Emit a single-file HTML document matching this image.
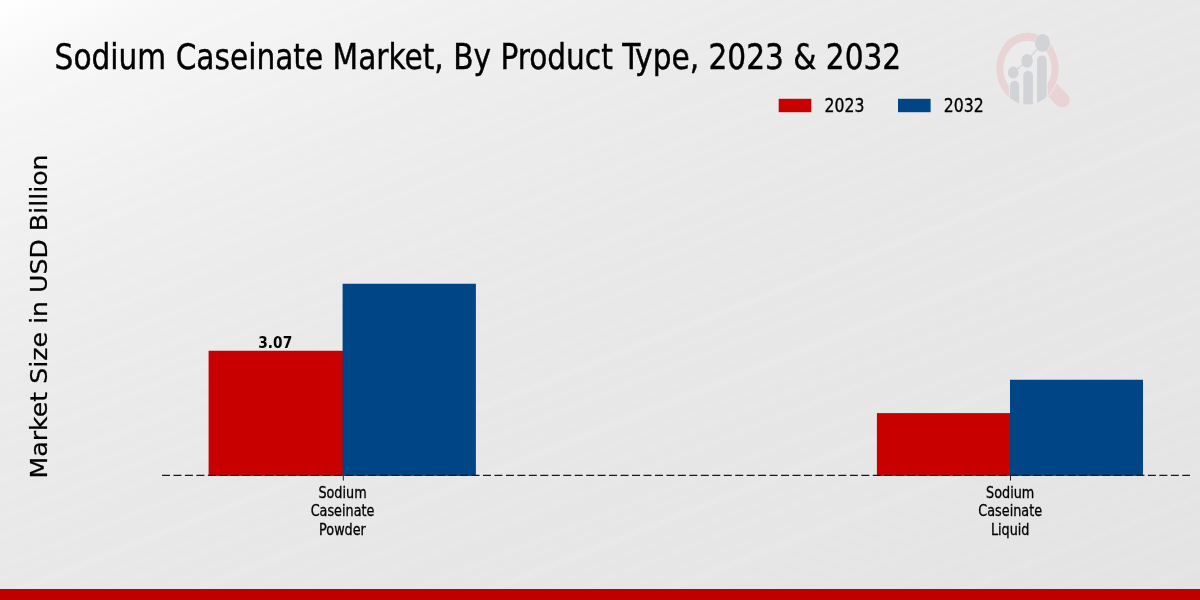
<!DOCTYPE html>
<html lang="en">
<head>
<meta charset="utf-8">
<title>Sodium Caseinate Market, By Product Type, 2023 &amp; 2032</title>
<style>
html,body{margin:0;padding:0;}
body{width:1200px;height:600px;overflow:hidden;background:#e8e8e8;}
svg{display:block;}
.t{font-family:"DejaVu Sans Condensed","DejaVu Sans","Liberation Sans",sans-serif;font-stretch:condensed;fill:#000;}
.w{font-family:"DejaVu Sans","Liberation Sans",sans-serif;fill:#000;}
</style>
</head>
<body>
<svg width="1200" height="600" viewBox="0 0 1200 600">
  <defs>
    <linearGradient id="bg" x1="0" y1="0" x2="1" y2="1" gradientUnits="objectBoundingBox">
      <stop offset="0" stop-color="#ffffff"/>
      <stop offset="0.07" stop-color="#f7f7f7"/>
      <stop offset="0.2" stop-color="#f0f0f0"/>
      <stop offset="0.32" stop-color="#ebebeb"/>
      <stop offset="0.5" stop-color="#e8e8e8"/>
      <stop offset="0.75" stop-color="#e6e6e6"/>
      <stop offset="1" stop-color="#e3e3e3"/>
    </linearGradient>
    <pattern id="rays" patternUnits="userSpaceOnUse" width="300" height="173" patternTransform="rotate(-21.5)">
      <rect x="0" y="6" width="300" height="5" fill="#fff" opacity="0.055"/>
      <rect x="0" y="19" width="300" height="3" fill="#fff" opacity="0.044"/>
      <rect x="0" y="33" width="300" height="7" fill="#fff" opacity="0.066"/>
      <rect x="0" y="52" width="300" height="4" fill="#fff" opacity="0.039"/>
      <rect x="0" y="66" width="300" height="6" fill="#fff" opacity="0.055"/>
      <rect x="0" y="85" width="300" height="3" fill="#fff" opacity="0.044"/>
      <rect x="0" y="97" width="300" height="8" fill="#fff" opacity="0.061"/>
      <rect x="0" y="118" width="300" height="4" fill="#fff" opacity="0.044"/>
      <rect x="0" y="133" width="300" height="6" fill="#fff" opacity="0.055"/>
      <rect x="0" y="152" width="300" height="5" fill="#fff" opacity="0.050"/>
    </pattern>
    <clipPath id="lens"><ellipse cx="1027.5" cy="68.5" rx="31.25" ry="36"/></clipPath>
  </defs>
  <rect x="0" y="0" width="1200" height="600" fill="url(#bg)"/>
  <rect x="0" y="0" width="1200" height="600" fill="url(#rays)"/>

  <!-- watermark logo -->
  <g id="logo">
    <line x1="1052" y1="89.5" x2="1062.2" y2="99.9" stroke="#e8d3d5" stroke-width="15" stroke-linecap="round"/>
    <ellipse cx="1027.5" cy="68.5" rx="32.1" ry="36.9" fill="#ebebeb"/>
    <path fill="#e8d3d5" fill-rule="evenodd" d="M996.25,68.5 a31.25,36 0 1 0 62.5,0 a31.25,36 0 1 0 -62.5,0 Z M1003.3,68.5 a24.2,27.7 0 1 0 48.4,0 a24.2,27.7 0 1 0 -48.4,0 Z"/>
    <g clip-path="url(#lens)">
      <rect x="1009.2" y="88" width="38.3" height="20" fill="#ebebeb"/>
      <g fill="#d2d3d7" stroke="#ebebeb" stroke-width="1.6" paint-order="stroke">
        <rect x="1010" y="80.8" width="9.2" height="40" rx="4.6"/>
        <rect x="1023.3" y="70.8" width="9.6" height="50" rx="4.8"/>
        <rect x="1037.1" y="55.4" width="9.6" height="60" rx="4.8"/>
      </g>
    </g>
    <polyline points="1013.2,72.6 1027.1,60.8 1042.5,42.9" fill="none" stroke="#d2d3d7" stroke-width="1.2"/>
    <ellipse cx="1013.2" cy="72.6" rx="5.3" ry="6" fill="#d2d3d7"/>
    <ellipse cx="1027.1" cy="60.8" rx="5.8" ry="6.9" fill="#d2d3d7"/>
    <ellipse cx="1042.5" cy="42.9" rx="7.6" ry="8.9" fill="#d2d3d7" stroke="#ebebeb" stroke-width="1.2" paint-order="stroke"/>
  </g>

  <!-- bars -->
  <rect x="208.6" y="350.75" width="135" height="125.15" fill="#c80000"/>
  <rect x="342.6" y="283.75" width="133.3" height="192.15" fill="#004586"/>
  <rect x="876.9" y="413.1" width="133.1" height="62.8" fill="#c80000"/>
  <rect x="1010" y="379.75" width="133" height="96.15" fill="#004586"/>
  <!-- axis -->
  <line x1="162" y1="475.45" x2="1190" y2="475.45" stroke="#1a1a1a" stroke-width="1.2" stroke-dasharray="8 3.464"/>
  <line x1="343.3" y1="475.5" x2="343.3" y2="480.6" stroke="#222" stroke-width="1"/>
  <line x1="1010.5" y1="475.5" x2="1010.5" y2="480.5" stroke="#222" stroke-width="1"/>
  <!-- title -->
  <text class="t" transform="translate(54.6,68.7) scale(0.9304,1)" font-size="35.4" stroke="#000" stroke-width="0.4">Sodium Caseinate Market, By Product Type, 2023 &amp; 2032</text>
  <!-- legend -->
  <rect x="778.7" y="98.8" width="32.6" height="13.4" fill="#c80000"/>
  <text class="t" transform="translate(824.6,112.2) scale(0.92,1)" font-size="19" stroke="#000" stroke-width="0.3">2023</text>
  <rect x="898" y="98.8" width="32.6" height="13.4" fill="#004586"/>
  <text class="t" transform="translate(943.8,112.2) scale(0.92,1)" font-size="19" stroke="#000" stroke-width="0.3">2032</text>
  <!-- ylabel -->
  <text class="w" transform="translate(47.3,316.5) scale(0.905,1) rotate(-90)" text-anchor="middle" font-size="25.22" stroke="#000" stroke-width="0.25">Market Size in USD Billion</text>
  <!-- value -->
  <text class="t" transform="translate(275.25,347.9) scale(0.955,1)" text-anchor="middle" font-size="16" font-weight="bold">3.07</text>
  <!-- tick labels -->
  <g class="t" font-size="15.7" text-anchor="middle" stroke="#000" stroke-width="0.3">
    <g transform="translate(342.5,0) scale(0.907,1)">
      <text x="0" y="497.8">Sodium</text>
      <text x="0" y="516.4">Caseinate</text>
      <text x="0" y="535.1">Powder</text>
    </g>
    <g transform="translate(1010.2,0) scale(0.907,1)">
      <text x="0" y="497.8">Sodium</text>
      <text x="0" y="516.4">Caseinate</text>
      <text x="0" y="535.1">Liquid</text>
    </g>
  </g>
  <!-- footer -->
  <rect x="0" y="589" width="1200" height="11" fill="#c00000"/>
</svg>
</body>
</html>
